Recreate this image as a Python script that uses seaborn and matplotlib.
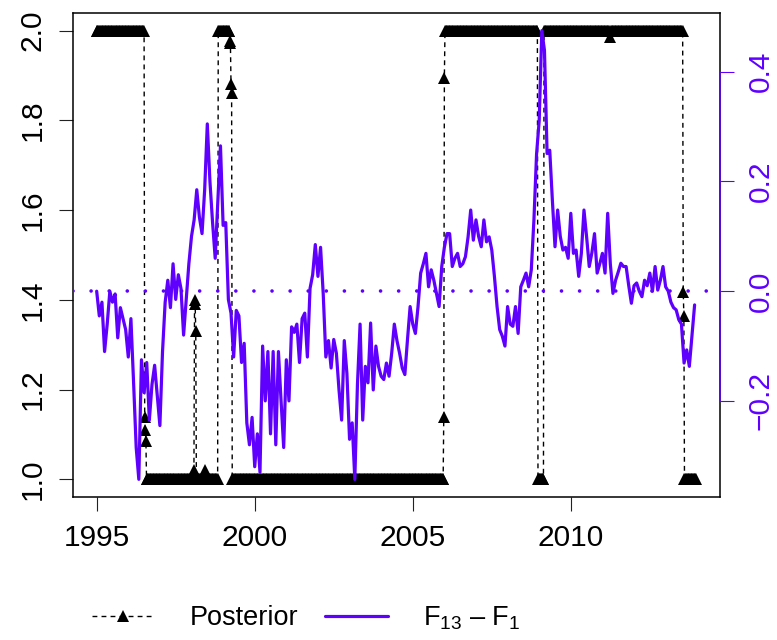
import numpy as np
import matplotlib
matplotlib.use("Agg")
import matplotlib.pyplot as plt
import seaborn as sns
from matplotlib.lines import Line2D

# ---------------- data ----------------
# F13 - F1 spread, monthly from Jan 1995
spread_start = 1995.0
spread = [
    0.000, -0.045, -0.020, -0.110, -0.060, 0.000, -0.020, -0.005, -0.085, -0.030, -0.050, -0.070,
    -0.120, -0.050, -0.165, -0.285, -0.343, -0.125, -0.185, -0.130, -0.235, -0.170, -0.135, -0.190,
    -0.245, -0.110, -0.020, 0.020, -0.030, 0.050, -0.015, 0.030, 0.005, -0.080, -0.015, 0.050,
    0.100, 0.130, 0.185, 0.135, 0.105, 0.185, 0.305, 0.200, 0.125, 0.060, 0.165, 0.265,
    0.120, 0.125, -0.015, -0.040, -0.120, -0.035, -0.045, -0.130, -0.095, -0.240, -0.280, -0.230,
    -0.320, -0.260, -0.330, -0.100, -0.200, -0.110, -0.260, -0.110, -0.280, -0.110, -0.200, -0.285,
    -0.125, -0.200, -0.065, -0.075, -0.060, -0.130, -0.050, -0.040, -0.120, 0.005, 0.030, 0.085,
    0.027, 0.080, -0.004, -0.120, -0.090, -0.140, -0.088, -0.113, -0.180, -0.235, -0.090, -0.150,
    -0.270, -0.240, -0.343, -0.170, -0.060, -0.235, -0.137, -0.167, -0.058, -0.180, -0.100, -0.137,
    -0.155, -0.161, -0.131, -0.155, -0.113, -0.060, -0.090, -0.113, -0.140, -0.152, -0.088, -0.028,
    -0.060, -0.077, -0.028, 0.033, 0.050, 0.069, 0.008, 0.039, 0.020, -0.004, -0.028, 0.045,
    0.080, 0.105, 0.105, 0.045, 0.060, 0.069, 0.045, 0.050, 0.063, 0.099, 0.148, 0.093,
    0.130, 0.100, 0.081, 0.130, 0.090, 0.099, 0.075, 0.027, -0.028, -0.070, -0.082, -0.100,
    -0.028, -0.060, -0.064, -0.028, -0.077, 0.008, 0.020, 0.033, 0.008, 0.039, 0.130, 0.250,
    0.311, 0.475, 0.439, 0.251, 0.257, 0.166, 0.081, 0.148, 0.100, 0.075, 0.080, 0.060,
    0.142, 0.069, 0.075, 0.027, 0.069, 0.148, 0.099, 0.045, 0.070, 0.105, 0.033, 0.050,
    0.069, 0.033, 0.142, 0.050, -0.004, 0.020, 0.035, 0.051, 0.045, 0.045, 0.010, -0.022,
    0.010, 0.015, 0.000, -0.010, 0.020, 0.010, 0.033, 0.000, 0.045, 0.002, 0.020, 0.045,
    0.008, 0.000, -0.020, -0.030, -0.034, -0.052, -0.060, -0.131, -0.107, -0.137, -0.080, -0.025,
]
# Posterior regime indicator, weekly from Jan 1995, stored as runs (value, number of weeks)
posterior_start = 1995.0
posterior_values = [2.0, 1.14, 1.11, 1.085, 1.0, 1.02, 1.40, 1.39, 1.33, 1.0, 1.02, 1.0,
                    2.0, 1.978, 1.973, 1.882, 1.861, 1.0, 1.14, 1.895, 2.0, 1.0, 2.0,
                    1.985, 2.0, 1.417, 1.364, 1.0]
posterior_weeks = [79, 1, 1, 1, 78, 1, 1, 1, 1, 14, 1, 21,
                   19, 1, 1, 1, 1, 348, 1, 1, 153, 10, 109,
                   1, 119, 1, 1, 20]
x_ticks = [1995, 2000, 2005, 2010]
left_ticks = [1.0, 1.2, 1.4, 1.6, 1.8, 2.0]
right_ticks = [-0.2, 0.0, 0.2, 0.4]
legend_labels = ["Posterior", r"F$_{13}$ – F$_{1}$"]

# ---------------- style ----------------
sns.set_theme(style="ticks")
plt.rcParams["font.family"] = ["Liberation Sans", "DejaVu Sans"]
plt.rcParams["mathtext.fontset"] = "custom"
plt.rcParams["mathtext.rm"] = "Liberation Sans"
plt.rcParams["mathtext.it"] = "Liberation Sans"
for k in ["text.color", "axes.labelcolor", "xtick.color", "ytick.color"]:
    plt.rcParams[k] = "black"
PURPLE = "#5F00FF"
TICK_FS = 21.5
LEG_FS = 19.5
DASH = (0, (3.5, 3.0))

t_spread = spread_start + np.arange(len(spread)) / 12.0
post = np.repeat(posterior_values, posterior_weeks)
t_post = posterior_start + np.arange(len(post)) / 52.0

fig = plt.figure(figsize=(7.77, 6.4), dpi=100)
ax = fig.add_axes([72.7 / 777, 1 - 497.3 / 640, (720 - 72.7) / 777, (497.3 - 12.7) / 640])

sns.lineplot(x=t_post, y=post, ax=ax, color="black", marker="^", markersize=9,
             markeredgewidth=0, linewidth=1.0, linestyle=DASH,
             sort=False, estimator=None)

t_lo = min(t_post[0], t_spread[0])
t_hi = max(t_post[-1], t_spread[-1])
pad = 0.04 * (t_hi - t_lo)
ax.set_xlim(t_lo - pad, t_hi + pad)
ax.set_ylim(1 - 0.04, 2 + 0.04)
ax.set_xticks(x_ticks)
ax.set_xticklabels([str(v) for v in x_ticks])
ax.set_yticks(left_ticks)
ax.set_yticklabels([f"{v:.1f}" for v in left_ticks], rotation=90, va="center")
ax.tick_params(axis="both", direction="out", length=10, width=0.8, color="#222222",
               labelcolor="black", labelsize=TICK_FS, pad=9)
for s in ax.spines.values():
    s.set_linewidth(1.1)
    s.set_color("black")

# secondary axis: spread rescaled so that its range spans [1, 2] of the left axis
ax2 = ax.twinx()
smin, smax = min(spread), max(spread)
rng = smax - smin
ax2.set_ylim(smin - 0.04 * rng, smax + 0.04 * rng)
ax2.axhline(0.0, color=PURPLE, linewidth=2.6, linestyle=(0, (0.01, 5.0)),
            dash_capstyle="round", zorder=1)
sns.lineplot(x=t_spread, y=spread, ax=ax2, color=PURPLE, linewidth=2.3,
             sort=False, estimator=None, zorder=3)
ax2.set_yticks(right_ticks)
ax2.set_yticklabels([f"{v:.1f}".replace("-", "\u2212") for v in right_ticks],
                    rotation=90, va="center")
ax2.tick_params(axis="y", direction="out", length=10, width=0.8, colors=PURPLE,
                labelsize=TICK_FS, pad=9)
for k in ["top", "left", "bottom"]:
    ax2.spines[k].set_visible(False)
ax2.spines["right"].set_color(PURPLE)
ax2.spines["right"].set_linewidth(1.1)
ax2.spines["right"].set_bounds(right_ticks[0], right_ticks[-1])
ax2.set_xlim(ax.get_xlim())

handles = [
    Line2D([], [], color="black", marker="^", markersize=8, markeredgewidth=0,
           linewidth=1.0, linestyle=DASH),
    Line2D([], [], color=PURPLE, linewidth=2.3),
]
fig.legend(handles, legend_labels, loc="center left", ncol=2, frameon=False,
           bbox_to_anchor=(92 / 777, 1 - 618 / 640), fontsize=LEG_FS,
           handlelength=2.3, handletextpad=1.3, columnspacing=1.0,
           borderpad=0, borderaxespad=0)

fig.savefig("out.png", dpi=100)
